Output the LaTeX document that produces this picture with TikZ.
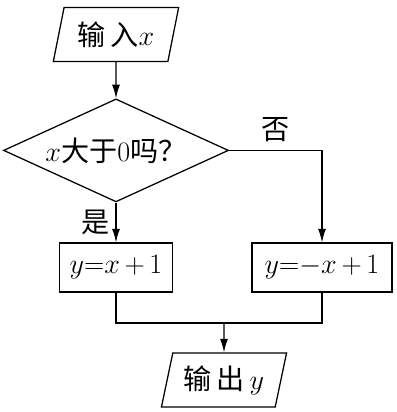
\documentclass[tikz,border=0pt]{standalone}
\usepackage{fix-cm}
\usepackage{fontspec}
\newfontfamily\cjk{Noto Sans CJK SC}
\usetikzlibrary{arrows.meta,positioning,shapes.geometric}
\tikzset{
  io/.style={draw, trapezium, trapezium left angle=74, trapezium right angle=106,
             trapezium stretches=true, minimum width=3.15cm, minimum height=1.35cm,
             inner sep=1pt},
  proc/.style={draw, rectangle, minimum height=1.225cm, inner sep=1pt},
  decide/.style={draw, diamond, shape aspect=2.2, minimum width=5.625cm,
                 minimum height=2.575cm, inner sep=0pt},
}

\begin{document}
\begin{tikzpicture}[font=\fontsize{20}{24}\selectfont, >={Latex[length=3.4mm,width=2mm]}, line width=0.9pt]
  \useasboundingbox (0,0) rectangle (9.925,-10.3);
  \node[io] (In) at (2.9,-0.86) {{\cjk 输\,入}$x$};
  \node[decide] (Cond) at (2.9,-3.76) {$x${\cjk 大于}0{\cjk 吗？}};
  \node[proc, minimum width=2.825cm] (Yes) at (2.9,-6.69) {$y{=}x\,{+}\,1$};
  \node[proc, minimum width=3.5cm] (No) at (8.05,-6.69) {$y{=}{-}x\,{+}\,1$};
  \node[io] (Out) at (5.6,-9.5) {{\cjk 输\,出}\,$y$};
  \coordinate (Merge) at (5.6,-8.075);
  \draw[->] (In) -- (Cond);
  \draw[->] (Cond.east) -| node[above, pos=0.25, inner sep=6pt]{\cjk 否} (No.north);
  \draw[->] (Cond.south) -- node[left, inner sep=4pt]{\cjk 是} (Yes.north);
  \draw (Yes.south) |- (Merge) -| (No.south);
  \draw[->] (Merge) -- (Out.north);
\end{tikzpicture}
\end{document}
